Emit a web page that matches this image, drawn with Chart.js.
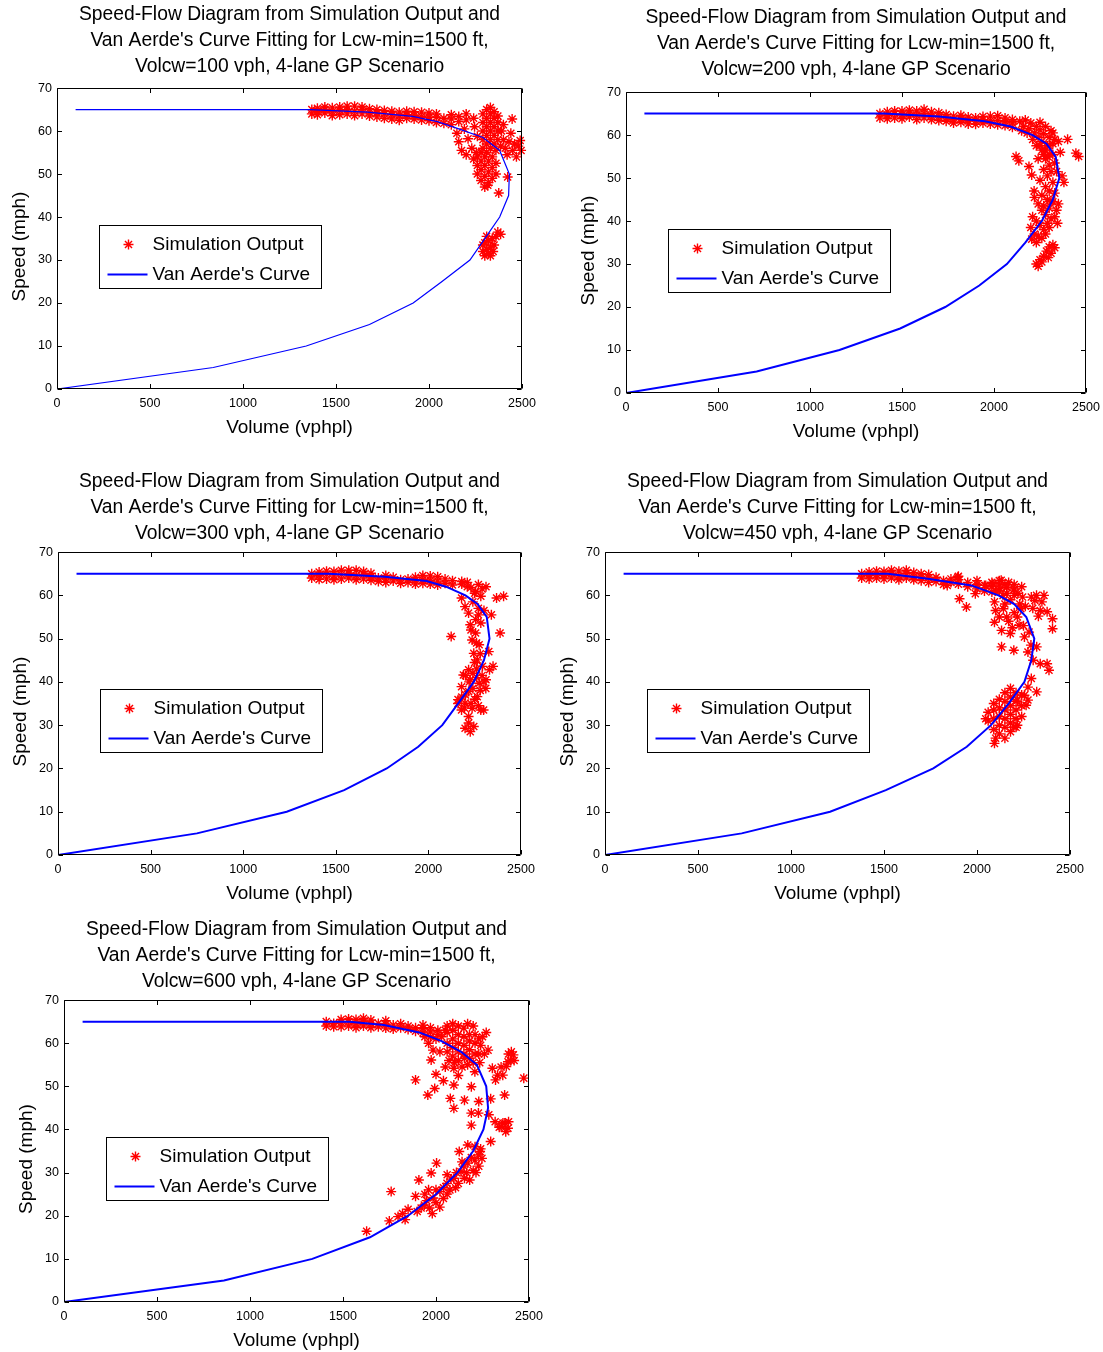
<!DOCTYPE html>
<html><head><meta charset="utf-8">
<script src="https://cdn.jsdelivr.net/npm/chart.js@4.4.1/dist/chart.umd.min.js"></script>
<style>
html,body{margin:0;padding:0;background:#fff;overflow:hidden;width:1103px;height:1352px;position:relative;}
canvas.panel{position:absolute;}
</style></head><body>
<canvas id="c1" class="panel"></canvas>
<canvas id="c2" class="panel"></canvas>
<canvas id="c3" class="panel"></canvas>
<canvas id="c4" class="panel"></canvas>
<canvas id="c5" class="panel"></canvas>
<script>
// ---------------- DATA ----------------
const xTicks = [0, 500, 1000, 1500, 2000, 2500];
const yTicks = [0, 10, 20, 30, 40, 50, 60, 70];
const volcwValues = [100, 200, 300, 450, 600];
const seriesNames = ['Simulation Output', "Van Aerde's Curve"];
const xTitle = 'Volume (vphpl)';
const yTitle = 'Speed (mph)';

// Van Aerde's curve vertices [volume, speed]
const curve100 = [[100,65],[1360,65],[1670,64.4],[1912,63.4],[2045,62.2],[2160,60.5],[2290,58.5],[2380,55.5],[2432,50],[2428,45],[2380,40],[2300,35],[2220,30],[2070,25],[1915,20],[1680,15],[1340,10],[840,5],[0,0]];
const curve200 = [[100,65],[1400,65],[1700,64.3],[1950,63.2],[2090,62],[2210,60],[2285,58],[2335,55],[2355,50],[2320,45],[2260,40],[2170,35],[2070,30],[1920,25],[1735,20],[1490,15],[1160,10],[710,5],[0,0]];
const curve300 = [[100,65],[1460,65],[1765,64.3],[1990,63.3],[2095,62],[2200,60],[2265,58],[2315,55],[2330,50],[2300,45],[2245,40],[2160,35],[2075,30],[1945,25],[1775,20],[1545,15],[1235,10],[750,5],[0,0]];
const curve450 = [[100,65],[1520,65],[1745,63.8],[1970,62.3],[2115,60],[2200,58],[2265,55],[2308,50],[2292,45],[2255,40],[2170,35],[2075,30],[1945,25],[1765,20],[1510,15],[1210,10],[735,5],[0,0]];
const curve600 = [[100,65],[1535,65],[1720,64.2],[1910,62.5],[2030,60.5],[2135,58],[2220,55],[2270,50],[2280,45],[2255,40],[2200,35],[2115,30],[2000,25],[1850,20],[1645,15],[1335,10],[860,5],[0,0]];

// Simulation output points [volume, speed]
const sim100 = [
[1370,64.0],[1370,65.0],[1400,63.8],[1400,64.6],[1400,65.3],[1440,64.2],[1440,65.0],[1440,65.6],
[1480,63.6],[1480,64.5],[1480,65.4],[1520,63.8],[1520,64.8],[1520,65.6],[1560,64.0],[1560,65.0],[1560,65.8],
[1600,63.6],[1600,64.6],[1600,65.8],[1640,64.0],[1640,65.0],[1640,65.6],[1680,63.5],[1680,64.4],[1680,65.2],
[1720,63.3],[1720,64.2],[1720,65.0],[1760,63.0],[1760,64.0],[1760,64.8],[1800,62.8],[1800,63.8],[1800,64.6],
[1840,62.5],[1840,63.5],[1840,64.4],[1880,63.0],[1880,63.8],[1880,64.6],[1920,62.8],[1920,63.6],[1920,64.5],
[1960,62.6],[1960,63.4],[1960,64.4],[2000,62.4],[2000,63.2],[2000,64.2],[2040,62.0],[2040,63.2],[2040,64.0],
[2080,61.8],[2080,63.0],[2120,61.5],[2120,62.8],[2120,63.8],[2160,62.2],[2160,63.4],[2200,62.6],[2200,64.0],[2240,63.0],
[2150,59.5],[2160,57.5],[2175,55.5],[2190,60.5],[2210,58.2],[2230,56.0],[2200,54.5],[2245,61.0],[2260,58.8],[2240,53.5],[2255,55.0],
[2290,56],[2290,58],[2290,60],[2290,62],[2290,64],[2310,55],[2310,57],[2310,59],[2310,61],[2310,63],[2310,65],
[2330,56],[2330,58],[2330,60],[2330,62],[2330,64],[2330,65.5],[2350,57],[2350,59],[2350,61],[2350,63],[2350,64.5],
[2370,58],[2370,60],[2370,62],[2370,63.5],
[2260,50],[2260,52],[2260,54],[2280,48.5],[2280,51],[2280,53],[2280,55],[2300,47],[2300,49.5],[2300,52],[2300,54],
[2320,48],[2320,50.5],[2320,53],[2340,49],[2340,51.5],[2340,54],[2360,50],[2360,52.5],[2360,55.5],
[2316,47.4],[2375,45.6],[2423,49.3],
[2390,60],[2400,58],[2410,56],[2420,54.5],[2430,57.5],[2440,59.5],[2450,55.5],[2460,57],[2470,54],[2480,56.5],
[2495,55.5],[2490,57.8],[2400,61.5],[2385,56.5],[2447,62.8],
[2290,32],[2300,31],[2310,32.5],[2320,31.5],[2330,33],[2300,34],[2320,34.5],[2340,35],[2310,35.5],[2350,33.5],
[2360,35.5],[2370,36.5],[2385,36],[2290,33.5],[2330,31],[2345,32]
];
const sim200 = [
[1380,64.0],[1380,65.0],[1420,63.8],[1420,64.6],[1420,65.4],[1460,64.0],[1460,65.0],[1460,65.6],
[1500,63.8],[1500,64.7],[1500,65.6],[1540,64.2],[1540,65.1],[1540,65.8],[1580,63.6],[1580,64.6],[1580,65.6],
[1620,64.0],[1620,65.0],[1620,66.0],[1660,63.6],[1660,64.5],[1660,65.4],[1700,63.4],[1700,64.3],[1700,65.2],
[1740,63.2],[1740,64.0],[1740,64.8],[1780,62.8],[1780,63.6],[1780,64.4],[1820,63.0],[1820,63.8],[1820,64.6],
[1860,62.6],[1860,63.4],[1860,64.2],[1900,62.5],[1900,63.3],[1900,64.0],[1940,62.8],[1940,63.6],[1940,64.3],
[1980,62.6],[1980,63.4],[1980,64.4],[2020,62.4],[2020,63.4],[2020,64.5],[2060,62.2],[2060,63.2],[2060,64.0],
[2100,61.8],[2100,62.8],[2100,63.6],
[2140,63.2],[2160,62.0],[2170,63.5],[2190,61.5],[2200,62.8],[2220,60.5],[2230,62.0],[2240,59.5],[2250,61.2],
[2260,58.5],[2270,60.3],[2280,62.0],[2290,57.5],[2300,59.5],[2310,61.0],[2320,58.0],[2280,56.5],[2300,55.5],[2330,59.0],[2250,63.0],
[2150,61.0],[2180,60.5],[2210,59.0],[2230,57.5],[2250,57.5],[2270,55.5],[2290,55.0],[2240,54.5],[2300,57.5],[2320,60.5],
[2260,56.5],[2280,54.5],[2300,53.0],[2320,55.5],[2270,52.0],[2290,50.5],[2310,51.5],[2330,53.5],[2250,49.5],
[2280,48.0],[2300,47.0],[2320,49.0],[2340,51.5],[2260,46.0],[2290,45.0],[2310,44.5],[2330,46.5],[2270,43.5],
[2220,45.5],[2240,44.0],[2260,42.5],[2280,41.5],[2300,43.0],[2320,44.5],[2340,42.5],[2210,41.0],[2230,40.0],
[2250,39.0],[2270,38.0],[2290,39.5],[2310,40.5],[2330,41.0],[2200,38.5],[2220,37.0],[2240,36.5],[2260,36.0],
[2280,37.0],[2300,38.5],[2205,35.8],[2230,35.0],[2350,44.0],[2345,39.5],
[2230,30.0],[2240,29.5],[2250,31.0],[2260,30.5],[2270,31.8],[2285,33.0],[2295,31.5],[2300,34.0],[2320,34.5],[2330,33.8],[2310,32.5],
[2400,59.0],[2445,55.8],[2460,55.0],[2120,55.0],[2135,54.0],[2190,52.7],[2205,50.7],[2218,47.0],[2370,50.5],[2380,49.0],[2360,56.0],[2350,58.5]
];
const sim300 = [
[1370,64.0],[1370,65.0],[1410,63.7],[1410,64.6],[1410,65.4],[1450,63.8],[1450,64.8],[1450,65.6],
[1490,63.6],[1490,64.5],[1490,65.5],[1530,63.8],[1530,64.8],[1530,65.8],[1570,64.0],[1570,65.0],[1570,65.8],
[1610,63.6],[1610,64.6],[1610,65.8],[1650,63.8],[1650,64.8],[1650,65.5],[1690,63.5],[1690,64.3],[1690,65.1],
[1730,63.2],[1730,64.0],[1770,63.0],[1770,63.8],[1770,64.6],[1810,63.3],[1810,64.2],[1850,62.8],[1850,63.6],
[1890,63.0],[1890,63.8],[1930,62.6],[1930,63.4],[1930,64.2],[1970,62.8],[1970,63.6],[1970,64.6],
[2010,62.6],[2010,63.5],[2010,64.5],[2050,62.4],[2050,63.3],[2050,64.3],[2090,62.8],[2090,63.8],
[2130,62.4],[2130,63.4],[2180,62.6],[2180,63.2],[2210,62.0],[2210,63.0],
[2255,60.9],[2311,62],[2283,59.8],[2179,59.4],[2198,57.4],[2217,55.9],[2255,54.4],[2226,53.2],[2283,53.6],
[2255,51.3],[2236,49.7],[2274,48.6],[2245,46.6],[2264,45.1],[2292,43.6],[2330,42.8],[2217,42.8],[2189,41.6],
[2226,40.5],[2274,39.7],[2311,40.5],[2179,38.9],[2217,37.8],[2264,36.6],[2160,35.9],[2198,35.1],[2236,33.9],
[2179,33.5],[2217,32],[2198,29.3],[2226,28.5],[2217,30.5],[2245,29.7],
[2200,41.5],[2220,40.0],[2240,38.5],[2260,41.0],[2280,38.0],[2300,40.0],[2250,36.0],[2200,37.0],[2230,35.0],
[2180,36.5],[2260,43.0],[2290,41.5],[2270,34.5],[2160,35.0],[2195,34.0],[2240,42.0],[2310,38.5],
[2240,58.5],[2270,57.0],[2230,52.0],[2260,49.0],[2280,46.5],[2250,44.5],[2270,55.5],[2300,56.5],[2250,60.5],[2290,61.5],[2230,61.8],[2270,62.5],
[2123,50.5],[2406,59.8],[2368,59.4],[2340,55.5],[2387,51.3],[2326,47],[2349,43.6],[2298,33.5],[2283,33.5]
];
const sim450 = [
[1380,64.0],[1380,65.0],[1420,63.8],[1420,64.6],[1420,65.4],[1460,64.0],[1460,64.8],[1460,65.6],
[1500,63.8],[1500,64.6],[1500,65.5],[1540,64.0],[1540,65.0],[1540,65.8],[1580,63.6],[1580,64.5],[1580,65.6],
[1620,64.0],[1620,65.0],[1620,65.8],[1660,63.6],[1660,64.4],[1660,65.3],[1700,63.4],[1700,64.2],[1700,65.0],
[1740,63.0],[1740,64.0],[1740,64.8],[1780,63.2],[1780,64.2],[1820,62.5],[1820,63.4],[1860,63.0],[1860,63.8],
[1900,62.6],[1900,63.6],[1900,64.4],[1950,62.0],[1950,63.0],[2000,61.5],[2000,62.5],[2000,63.4],
[2040,61.0],[2040,62.3],[2080,60.8],[2080,62.0],[2080,63.0],[2120,61.0],[2120,62.4],[2120,63.4],
[2160,60.5],[2160,61.8],[2200,60.0],[2200,61.5],[2200,62.5],
[1896,64.2],[1840,62.3],[1906,59.2],[1943,57.3],[1991,60.4],[2047,62.3],[2085,62.7],[2123,61.5],[2160,61.9],
[2198,61.2],[2094,58.5],[2142,56.9],[2160,55],[2217,55],[2226,53.1],[2094,53.8],[2132,51.9],[2179,51.2],
[2255,50.4],[2132,48.1],[2198,47.3],[2274,46.9],[2236,56.9],[2245,59.6],[2311,58.8],[2349,58.5],[2292,59.6],
[2330,55.2],[2377,56.2],[2406,54.6],[2406,52.3],[2321,48.1],[2302,45],[2340,44.2],[2377,44.2],[2387,42.7],
[2292,40.8],[2274,38.8],[2321,37.7],[2255,36.9],[2217,35.8],[2274,35.8],[2264,34.6],
[2130,63.5],[2150,62.5],[2170,63.0],[2100,61.0],[2140,60.0],[2180,59.0],[2220,60.5],[2230,58.0],[2200,56.0],
[2150,58.0],[2120,55.0],[2170,54.0],[2190,52.5],[2100,56.5],[2240,62.0],[2260,57.5],[2300,57.0],[2320,60.0],
[2340,56.5],[2360,60.0],[2250,53.0],[2280,51.5],[2290,48.5],
[2060,31],[2060,33],[2090,29],[2090,31.5],[2090,33.5],[2090,35],[2120,28],[2120,30],[2120,32],[2120,34],[2120,36],
[2150,27],[2150,29.5],[2150,31.5],[2150,33.5],[2150,35.5],[2150,37.5],[2180,28.5],[2180,30.5],[2180,32.5],
[2180,34.5],[2180,36.5],[2180,38.5],[2210,29.5],[2210,31.5],[2210,33.5],[2210,35.5],[2210,37.5],
[2240,32.0],[2240,34.5],[2240,37.0],[2094,25.8],[2100,27.0],[2047,31.5],[2217,30],[2198,29.6]
];
const sim600 = [
[1410,64.0],[1410,65.0],[1450,63.8],[1450,64.6],[1490,63.8],[1490,64.8],[1490,65.5],[1530,64.0],[1530,65.0],[1530,65.6],
[1570,63.6],[1570,64.5],[1570,65.5],[1610,64.0],[1610,65.0],[1610,65.8],[1650,63.6],[1650,64.5],[1650,65.4],
[1690,63.8],[1690,64.6],[1730,63.5],[1730,64.4],[1730,65.2],[1770,63.3],[1770,64.2],[1810,63.6],[1810,64.5],
[1850,63.2],[1850,64.0],[1890,62.8],[1890,63.6],[1930,62.4],[1930,63.4],[1930,64.2],[1970,61.5],[1970,62.6],[1970,63.6],
[2010,62.0],[2010,63.0],
[2060,58],[2060,60],[2060,62.5],[2060,64],[2090,57],[2090,59],[2090,61],[2090,63],[2090,64.5],
[2120,56],[2120,58],[2120,60],[2120,62],[2120,64],[2150,57.5],[2150,59.5],[2150,61.5],[2150,63.5],
[2180,56.5],[2180,58.5],[2180,60.5],[2180,62],[2210,57.5],[2210,60],[2210,62],
[2070,56],[2100,55.5],[2140,54.5],[2170,55],[2200,55.5],[2230,57.5],[2230,61],[2200,64],[2170,64.5],[2050,63],
[2030,61.5],[2000,61],[1960,60],[1940,61.5],[2270,62.5],[2260,57.5],
[2240,59.5],[2250,61.5],[2235,55.5],[2280,58.4],[2303,54.2],[2331,52.6],[2359,52.6],[2387,55.7],[2416,57.3],
[2400,56.0],[2378,54.6],[2369,48.0],[2472,51.9],[2294,47.1],[2284,43.4],[2318,41.8],[2350,40.7],[2387,40.3],
[2370,41.5],[2294,37.2],[2237,34.9],
[2340,40.5],[2360,41.5],[2375,39.5],[2390,41.8],[2350,54.5],[2390,57.5],[2420,56],[2405,58],[2320,51.5],
[1890,51.5],[1956,48],[1993,49.5],[2040,51.3],[2096,50.3],[2077,47.2],[2096,44.9],[2153,46.8],[2190,43.8],
[2190,41],[2228,43.8],[2190,49.9],[1974,56.1],[2021,58],[1984,58.4],[2096,54.2],[2153,56.5],[2209,53.4],
[2050,54.5],[2000,52.8],[2120,52.5],[2230,46.5],
[1899,21],[1920,21.8],[1937,22.5],[1950,23.5],[1965,21.8],[1984,24.1],[2000,23],[2021,25.6],[2040,26.5],
[2059,27.5],[2075,26],[2096,28.7],[2110,30],[2134,30.2],[2150,31.5],[2171,32.2],[2190,33.5],[2209,32.9],
[2228,34.1],[2153,28.7],[2181,28.3],[2200,30.5],[2120,27.5],[2060,29.5],[2000,26.0],[1940,25.0],[2020,22.0],
[1980,20.5],[2230,31.5],[2171,36.4],[2125,34.9],[2247,33.3],[2210,36.0],
[2040,24.0],[2080,28.5],[2140,32.5],[2165,30.0],[2105,26.5],[2060,25.0],[1960,26.0],[2215,30.0],[2240,35.5],
[1759,25.6],[1908,28.3],[1890,24.5],[2003,32.2],[1974,29.9],[1627,16.4],[1749,18.8],[1834,19.1],[1796,19.8],[1820,20.5],[1850,21.5]
];

// ---------------- LAYOUT / STYLE ----------------
const FONT = "'Liberation Sans', Arial, Helvetica, sans-serif";
Chart.defaults.font.family = FONT;
Chart.defaults.color = '#000';

const simSets = [sim100, sim200, sim300, sim450, sim600];
const curveSets = [curve100, curve200, curve300, curve450, curve600];
const panels = [
  {id:'c1', left:0,   top:2,   width:568, height:437, padRight:46, titlePadBottom:8.5, lineWidth:1.2},
  {id:'c2', left:569, top:5,   width:562, height:438, padRight:45, titlePadBottom:9.5, lineWidth:2},
  {id:'c3', left:1,   top:469, width:566, height:436, padRight:46, titlePadBottom:5.5, lineWidth:2},
  {id:'c4', left:548, top:469, width:570, height:436, padRight:48, titlePadBottom:5.5, lineWidth:2},
  {id:'c5', left:7,   top:917, width:570, height:435, padRight:48, titlePadBottom:5.5, lineWidth:2}
];
const STAR_R = 5, STAR_W = 1.4;

const boxPlugin = {
  id: 'matlabBox',
  afterDraw(chart) {
    const {ctx, chartArea: a, scales: {x, y}} = chart;
    const L = Math.round(a.left) + 0.5, R = Math.round(a.right) - 0.5;
    const T = Math.round(a.top) + 0.5, B = Math.round(a.bottom) - 0.5;
    const tl = 4.5;
    ctx.save();
    ctx.strokeStyle = '#000';
    ctx.lineWidth = 1;
    ctx.beginPath();
    ctx.rect(L, T, R - L, B - T);
    x.ticks.forEach(t => {
      const px = Math.round(x.getPixelForValue(t.value)) + 0.5;
      ctx.moveTo(px, B); ctx.lineTo(px, B - tl);
      ctx.moveTo(px, T); ctx.lineTo(px, T + tl);
    });
    y.ticks.forEach(t => {
      const py = Math.round(y.getPixelForValue(t.value)) + 0.5;
      ctx.moveTo(L, py); ctx.lineTo(L + tl, py);
      ctx.moveTo(R, py); ctx.lineTo(R - tl, py);
    });
    ctx.stroke();
    ctx.restore();
  }
};

const legendPlugin = {
  id: 'insideLegend',
  afterDraw(chart) {
    const {ctx, chartArea: a} = chart;
    const ds = chart.data.datasets;
    const lx = Math.round(a.left + 41.5) + 0.5, ly = Math.round(a.top + 137) + 0.5;
    const w = 222, h = 63;
    ctx.save();
    ctx.fillStyle = '#fff';
    ctx.fillRect(lx, ly, w, h);
    ctx.strokeStyle = '#000';
    ctx.lineWidth = 1;
    ctx.strokeRect(lx, ly, w, h);
    const r1 = ly + 19, r2 = ly + 49;
    const sx = lx + 29;
    ctx.strokeStyle = ds[0].pointBorderColor;
    ctx.lineWidth = STAR_W;
    ctx.beginPath();
    for (let k = 0; k < 4; k++) {
      const ang = k * Math.PI / 4;
      ctx.moveTo(sx - Math.cos(ang) * STAR_R, r1 - Math.sin(ang) * STAR_R);
      ctx.lineTo(sx + Math.cos(ang) * STAR_R, r1 + Math.sin(ang) * STAR_R);
    }
    ctx.stroke();
    ctx.strokeStyle = ds[1].borderColor;
    ctx.lineWidth = 2;
    ctx.beginPath();
    ctx.moveTo(lx + 8, r2); ctx.lineTo(lx + 48, r2);
    ctx.stroke();
    ctx.fillStyle = '#000';
    ctx.font = '19px ' + FONT;
    ctx.textBaseline = 'middle';
    ctx.textAlign = 'left';
    ctx.fillText(ds[0].label, lx + 53, r1);
    ctx.fillText(ds[1].label, lx + 53, r2);
    ctx.restore();
  }
};

// shift the library-drawn y-axis title slightly downward (as in the reference)
function shiftYTitle(s) {
  if (s._titleShifted) return;
  const orig = s.drawTitle;
  s.drawTitle = function () {
    this.ctx.save();
    this.ctx.translate(0, 8);
    orig.call(this);
    this.ctx.restore();
  };
  s._titleShifted = true;
}

const toPts = arr => arr.map(p => ({x: p[0], y: p[1]}));

panels.forEach((p, i) => {
  const cv = document.getElementById(p.id);
  cv.width = p.width; cv.height = p.height;
  cv.style.left = p.left + 'px'; cv.style.top = p.top + 'px';
  cv.style.width = p.width + 'px'; cv.style.height = p.height + 'px';
  new Chart(cv, {
    type: 'scatter',
    data: {
      datasets: [
        {label: seriesNames[0], data: toPts(simSets[i]), pointStyle: 'star', pointRadius: STAR_R, pointHoverRadius: STAR_R,
         pointBorderColor: '#ff0000', pointBackgroundColor: '#ff0000', pointBorderWidth: STAR_W, showLine: false, order: 1, clip: 6},
        {label: seriesNames[1], data: toPts(curveSets[i]), showLine: true, borderColor: '#0000ff', backgroundColor: '#0000ff',
         borderWidth: p.lineWidth, pointRadius: 0, pointHoverRadius: 0, tension: 0, fill: false, order: 0}
      ]
    },
    options: {
      responsive: false, animation: false, events: [],
      layout: {padding: {left: 0, right: p.padRight, top: 0, bottom: 0}},
      plugins: {
        legend: {display: false}, tooltip: {enabled: false},
        title: {display: true, fullSize: false, color: '#000',
          text: ['Speed-Flow Diagram from Simulation Output and',
                 "Van Aerde's Curve Fitting for Lcw-min=1500 ft,",
                 'Volcw=' + volcwValues[i] + ' vph, 4-lane GP Scenario'],
          font: {family: FONT, size: 19.3, weight: 'normal', lineHeight: 1.34},
          padding: {top: 0, bottom: p.titlePadBottom}}
      },
      scales: {
        x: {type: 'linear', position: 'bottom', min: xTicks[0], max: xTicks[xTicks.length - 1],
            afterBuildTicks: s => { s.ticks = xTicks.map(v => ({value: v})); },
            afterFit: s => { s.height = 50; },
            grid: {display: false, drawTicks: false}, border: {display: false},
            ticks: {color: '#000', font: {size: 12.5}, padding: 7.5, maxRotation: 0, autoSkip: false, callback: v => String(v)},
            title: {display: true, text: xTitle, color: '#000', font: {size: 19}, padding: {top: 0, bottom: 0}}},
        y: {type: 'linear', position: 'left', min: yTicks[0], max: yTicks[yTicks.length - 1],
            afterBuildTicks: s => { s.ticks = yTicks.map(v => ({value: v})); },
            afterFit: s => { s.width = 57; },
            afterUpdate: shiftYTitle,
            grid: {display: false, drawTicks: false}, border: {display: false},
            ticks: {color: '#000', font: {size: 12.5}, padding: 5, autoSkip: false, callback: v => String(v)},
            title: {display: true, text: yTitle, color: '#000', font: {size: 19}, padding: {top: 8.6, bottom: 0}}}
      }
    },
    plugins: [boxPlugin, legendPlugin]
  });
});
</script>
</body></html>
